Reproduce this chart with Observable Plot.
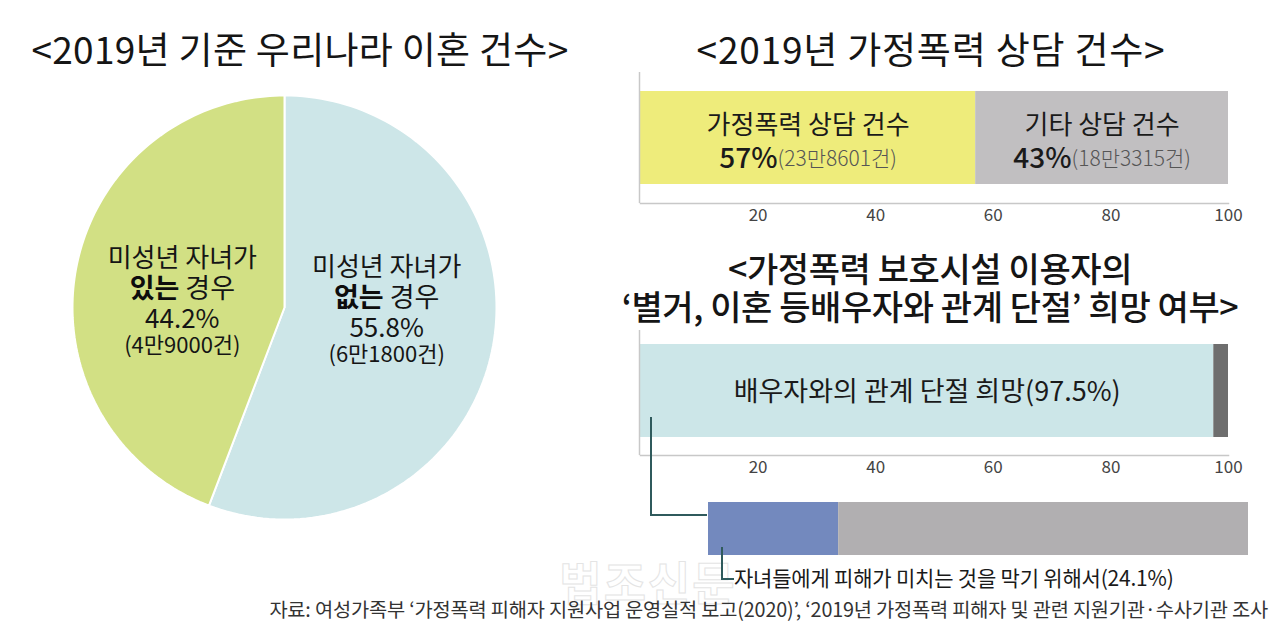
<!DOCTYPE html>
<html><head><meta charset="utf-8">
<script src="https://cdn.jsdelivr.net/npm/d3@7"></script>
<script src="https://cdn.jsdelivr.net/npm/@observablehq/plot@0.6"></script>
<style>
body{margin:0;background:#fff;font-family:"Noto Sans CJK KR","Noto Sans",sans-serif;}
#root{position:relative;width:1280px;height:626px;overflow:hidden;background:#fff;}
.t{position:absolute;white-space:nowrap;color:#151515;transform:translate(-50%,-50%);line-height:1;}
.p{position:absolute;}
.conn{position:absolute;border-left:2px solid #2f5a5c;border-bottom:2px solid #2f5a5c;z-index:5;}
</style></head><body><div id="root"></div>
<script>
// ---------- data ----------
const pieCategories = ["미성년 자녀가", "미성년 자녀가"];
const pieKeywords = ["없는", "있는"];
const pieSuffix = ["경우", "경우"];
const pieShares = [55.8, 44.2];
const pieCounts = ["6만1800건", "4만9000건"];
const pieColors = ["#cde6e8", "#d2e084"];

const counselCategories = ["가정폭력 상담 건수", "기타 상담 건수"];
const counselShares = [57, 43];
const counselCounts = ["23만8601건", "18만3315건"];
const counselColors = ["#eeec7b", "#c1bfc1"];

const wishCategories = ["배우자와의 관계 단절 희망", "기타"];
const wishShares = [97.5, 2.5];
const wishColors = ["#cce6e8", "#6e6e6e"];

const reasonCategories = ["자녀들에게 피해가 미치는 것을 막기 위해서", "기타"];
const reasonShares = [24.1, 75.9];
const reasonColors = ["#7389be", "#b1afb1"];

const axisTicks = [20, 40, 60, 80, 100];

const titleDivorce = "<2019년 기준 우리나라 이혼 건수>";
const titleCounsel = "<2019년 가정폭력 상담 건수>";
const titleWish = ["<가정폭력 보호시설 이용자의", "‘별거, 이혼 등배우자와 관계 단절’ 희망 여부>"];
const sourceNote = "자료: 여성가족부 ‘가정폭력 피해자 지원사업 운영실적 보고(2020)’, ‘2019년 가정폭력 피해자 및 관련 지원기관·수사기관 조사";
const watermark = "법조신문";

// ---------- helpers ----------
const FONT = '"Noto Sans CJK KR", sans-serif';
const root = document.getElementById("root");
const ctx = document.createElement("canvas").getContext("2d");
function tw(s, size, weight) { ctx.font = `${weight} ${size}px ${FONT}`; return ctx.measureText(s).width; }
function place(el, left, top) { el.classList.add("p"); el.style.left = left + "px"; el.style.top = top + "px"; root.appendChild(el); return el; }
function text(html, cx, cy, size, weight, extra = {}) {
  const d = document.createElement("div"); d.className = "t"; d.innerHTML = html;
  Object.assign(d.style, {left: cx + "px", top: cy + "px", fontSize: size + "px", fontWeight: weight}, extra);
  root.appendChild(d); return d;
}
const esc = s => s.replace(/&/g, "&amp;").replace(/</g, "&lt;").replace(/>/g, "&gt;");
function stackRows(cats, shares, colors) {
  const ends = d3.cumsum(shares);
  return cats.map((c, i) => ({cat: c, share: shares[i], x1: ends[i] - shares[i], x2: ends[i], mid: ends[i] - shares[i] / 2, color: colors[i], i}));
}

// faint watermark (behind everything)
text(esc(watermark), 648, 580, 46, 700, {color: "transparent", webkitTextStroke: "1px #e4e4e4", letterSpacing: "2px", zIndex: 0});

// ---------- titles ----------
text(esc(titleDivorce), 300, 48, 37, 400, {letterSpacing: "0.3px"});
text(esc(titleCounsel), 931, 48, 37, 400, {letterSpacing: "0.8px"});
text(titleWish.map(esc).join("<br>"), 930, 287, 34, 500, {letterSpacing: "-0.4px", lineHeight: "38px", textAlign: "center"});

// ---------- pie ----------
const arcs = d3.pie().sort(null).value(d => d)(pieShares);
const piePts = [];
arcs.forEach((a, i) => {
  const n = 120;
  piePts.push({k: i, x: 0, y: 0, color: pieColors[i]});
  for (let j = 0; j <= n; j++) {
    const t = a.startAngle + (a.endAngle - a.startAngle) * j / n;
    piePts.push({k: i, x: Math.sin(t), y: Math.cos(t), color: pieColors[i]});
  }
  piePts.push({k: i, x: 0, y: 0, color: pieColors[i]});
});
const pieLab = arcs.map((a, i) => {
  const m = (a.startAngle + a.endAngle) / 2;
  return {i, x: 0.49 * Math.sin(m), y: 0, cat: pieCategories[i], kw: pieKeywords[i], suf: pieSuffix[i], share: pieShares[i], count: pieCounts[i]};
});
const pieNudge = [4, -5]; // vertical label nudge per slice (px)
const pieTextMarks = pieLab.flatMap(d => {
  const ny = pieNudge[d.i];
  const w1 = tw(d.kw, 27, 700), ws = tw(" ", 27, 400), w2 = tw(d.suf, 27, 400);
  const start = -(w1 + ws + w2) / 2;
  const common = {x: "x", y: "y", fill: "#151515"};
  return [
    Plot.text([d], {...common, text: "cat", dy: -44 + ny, fontSize: 26}),
    Plot.text([d], {...common, text: "kw", textAnchor: "start", dx: start, dy: -13 + ny, fontSize: 27, fontWeight: 700, fill: "#0d0d0d"}),
    Plot.text([d], {...common, text: "suf", textAnchor: "start", dx: start + w1 + ws, dy: -13 + ny, fontSize: 27}),
    Plot.text([d], {...common, text: v => v.share + "%", dy: 17 + ny, fontSize: 26}),
    Plot.text([d], {...common, text: v => `(${v.count})`, dy: 43 + ny, fontSize: 22})
  ];
});
const pie = Plot.plot({
  width: 444, height: 444, margin: 10,
  x: {domain: [-1, 1], axis: null},
  y: {domain: [-1, 1], axis: null},
  style: {fontFamily: FONT, color: "#151515", background: "transparent"},
  marks: [
    Plot.line(piePts, {x: "x", y: "y", z: "k", fill: "color", stroke: "#fff", strokeWidth: 2, curve: "linear"}),
    ...pieTextMarks
  ]
});
place(pie, 62, 85);

// ---------- stacked-bar chart helper ----------
function barChart({rows, left, top, width, height, mL, mR, mT, mB, insetTop, insetBottom, axis, marks = []}) {
  const p = Plot.plot({
    width, height, marginLeft: mL, marginRight: mR, marginTop: mT, marginBottom: mB,
    x: {domain: [0, 100], ...(axis ? {ticks: axisTicks, tickSize: 0, tickPadding: 5, label: null, tickFormat: d => d} : {axis: null})},
    style: {fontFamily: FONT, fontSize: "17px", color: "#444", background: "transparent"},
    marks: [
      Plot.barX(rows, {x1: "x1", x2: "x2", fill: "color", insetTop, insetBottom, insetLeft: 0, insetRight: 0}),
      ...(axis ? [Plot.ruleX([0], {stroke: "#c8c8c8", strokeWidth: 1.5, dx: -1}), Plot.frame({anchor: "bottom", stroke: "#c8c8c8", strokeWidth: 1.5})] : []),
      ...marks
    ]
  });
  place(p, left, top);
  return p;
}

// top: counselling share
const counselRows = stackRows(counselCategories, counselShares, counselColors).map((d, i) => ({...d, count: counselCounts[i]}));
const counselMarks = counselRows.flatMap(d => {
  const pct = Math.round(d.share) + "%", cnt = `(${d.count})`;
  const w1 = tw(pct, 28, 500), w2 = tw(cnt, 21, 300);
  const start = -(w1 + w2) / 2;
  return [
    Plot.text([d], {x: "mid", text: "cat", dy: -12, fontSize: 26, fill: "#1a1a1a"}),
    Plot.text([d], {x: "mid", text: () => pct, textAnchor: "start", lineAnchor: "bottom", dx: start, dy: 30, fontSize: 28, fontWeight: 500, fill: "#1a1a1a"}),
    Plot.text([d], {x: "mid", text: () => cnt, textAnchor: "start", lineAnchor: "bottom", dx: start + w1, dy: 28, fontSize: 21, fontWeight: 300, fill: "#555"})
  ];
});
barChart({
  rows: counselRows, left: 600, top: 60, width: 660, height: 170,
  mL: 40, mR: 32, mT: 12, mB: 27, insetTop: 19, insetBottom: 19, axis: true,
  marks: counselMarks
});

// middle: wish to cut relationship
const wishRows = stackRows(wishCategories, wishShares, wishColors);
barChart({
  rows: wishRows, left: 600, top: 320, width: 660, height: 170,
  mL: 40, mR: 32, mT: 10, mB: 35, insetTop: 14, insetBottom: 18, axis: true,
  marks: [
    Plot.text(wishRows.filter(d => d.i === 0), {x: "mid", text: d => `${d.cat}(${d.share}%)`, dy: -1, fontSize: 27, fill: "#1a1a1a"})
  ]
});

// bottom: reason
const reasonRows = stackRows(reasonCategories, reasonShares, reasonColors);
barChart({
  rows: reasonRows, left: 700, top: 495, width: 560, height: 75,
  mL: 8, mR: 12, mT: 7, mB: 15, insetTop: 0, insetBottom: 0, axis: false
});

// connectors + annotation
const c1 = document.createElement("div"); c1.className = "conn";
Object.assign(c1.style, {left: "650px", top: "417px", width: "55px", height: "97px"}); root.appendChild(c1);
const c2 = document.createElement("div"); c2.className = "conn";
Object.assign(c2.style, {left: "721px", top: "547px", width: "11px", height: "31px"}); root.appendChild(c2);
text(esc(`${reasonCategories[0]}(${reasonShares[0]}%)`), 734, 577, 21, 400, {transform: "translate(0,-50%)", color: "#1a1a1a", letterSpacing: "-0.2px"});

// source
text(esc(sourceNote), 1268, 609, 19.8, 400, {transform: "translate(-100%,-50%)", color: "#333", letterSpacing: "-0.2px"});
</script></body></html>
